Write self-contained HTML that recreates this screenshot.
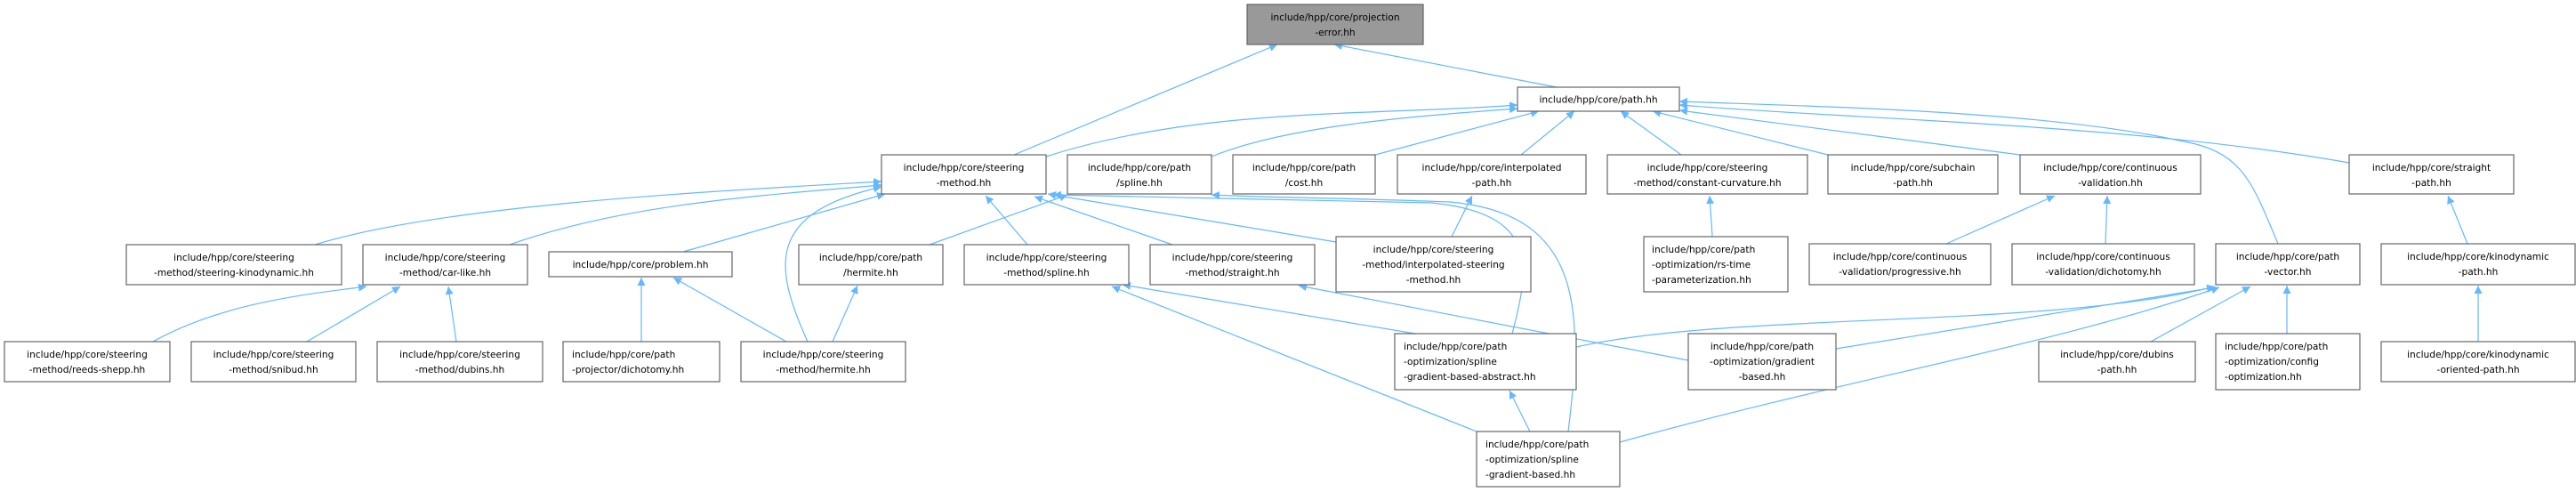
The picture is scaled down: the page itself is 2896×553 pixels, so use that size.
<!DOCTYPE html>
<html><head><meta charset="utf-8"><style>
html,body{margin:0;padding:0;background:#fff;}
svg{display:block;}
text{font-family:"DejaVu Sans","Liberation Sans",sans-serif;font-size:10.6px;fill:#000;}
.n{fill:#fff;stroke:#666;stroke-width:1.2;}
.e{fill:none;stroke:#63b8ff;stroke-width:1.2;}
</style></head><body>
<svg width="2896" height="553" viewBox="0 0 2896 553" xmlns="http://www.w3.org/2000/svg">
<defs><marker id="a" viewBox="0 0 10 10" refX="10" refY="5" markerWidth="9" markerHeight="9" orient="auto" markerUnits="userSpaceOnUse"><path d="M0,0 L10,5 L0,10 z" fill="#63b8ff"/></marker></defs>
<g class="e" marker-end="url(#a)">
<path d="M1140,174 L1436,50"/>
<path d="M1750,98 L1500,50"/>
<path d="M1176,176 C1350,120 1550,130 1706,118"/>
<path d="M1362,176 C1450,140 1600,130 1706,122"/>
<path d="M1546,174 L1730,125"/>
<path d="M1710,174 L1770,125"/>
<path d="M1890,174 L1822,125"/>
<path d="M2055,174 L1858,125"/>
<path d="M2271,174 L1888,124"/>
<path d="M2641,183 C2400,140 2100,135 1888,118"/>
<path d="M2561,274 C2530,200 2520,170 2450,158 C2300,125 2050,120 1888,114"/>
<path d="M354,275 C500,230 800,215 991,204"/>
<path d="M573,275 C700,230 850,220 991,208"/>
<path d="M768,283 L995,218"/>
<path d="M908,384 C870,300 860,240 991,210"/>
<path d="M1155,275 L1108,220"/>
<path d="M1318,275 L1163,221"/>
<path d="M1502,272 L1178,218"/>
<path d="M1045,275 L1200,219"/>
<path d="M1700,375 C1720,300 1730,240 1610,228 C1450,225 1300,222 1184,219"/>
<path d="M1763,485 C1780,350 1780,240 1630,227 C1500,222 1420,222 1362,219"/>
<path d="M936,384 L964,321"/>
<path d="M172,384 C250,340 350,330 412,322"/>
<path d="M345,384 L450,322"/>
<path d="M513,384 L504,322"/>
<path d="M721,384 L721,312"/>
<path d="M884,384 L757,312"/>
<path d="M1591,375 L1262,320"/>
<path d="M1660,485 L1250,322"/>
<path d="M1898,405 L1460,321"/>
<path d="M1632,266 L1655,220"/>
<path d="M1925,266 L1922,220"/>
<path d="M2188,274 L2310,220"/>
<path d="M2367,274 L2369,220"/>
<path d="M2774,274 L2752,220"/>
<path d="M2786,384 L2786,321"/>
<path d="M1772,390 C1950,350 2300,370 2490,322"/>
<path d="M2064,392 L2490,323"/>
<path d="M1821,497 C2100,420 2300,390 2495,323"/>
<path d="M2418,384 L2530,322"/>
<path d="M2571,375 L2571,321"/>
<path d="M1720,485 L1697,439"/>
</g>
<g>
<rect x="1402" y="5" width="198" height="45" fill="#999" stroke="#666" stroke-width="1.2"/>
<text x="1501" y="23" text-anchor="middle">include/hpp/core/projection</text><text x="1501" y="40" text-anchor="middle">-error.hh</text>

<rect class="n" x="1706" y="98" width="182" height="27"/>
<text x="1797" y="115.5" text-anchor="middle">include/hpp/core/path.hh</text>

<rect class="n" x="991" y="174" width="185" height="44"/>
<text x="1083.5" y="192" text-anchor="middle">include/hpp/core/steering</text><text x="1083.5" y="209" text-anchor="middle">-method.hh</text>
<rect class="n" x="1200" y="174" width="162" height="44"/>
<text x="1281" y="192" text-anchor="middle">include/hpp/core/path</text><text x="1281" y="209" text-anchor="middle">/spline.hh</text>
<rect class="n" x="1386" y="174" width="160" height="44"/>
<text x="1466" y="192" text-anchor="middle">include/hpp/core/path</text><text x="1466" y="209" text-anchor="middle">/cost.hh</text>
<rect class="n" x="1571" y="174" width="212" height="44"/>
<text x="1677" y="192" text-anchor="middle">include/hpp/core/interpolated</text><text x="1677" y="209" text-anchor="middle">-path.hh</text>
<rect class="n" x="1807" y="174" width="225" height="44"/>
<text x="1919.5" y="192" text-anchor="middle">include/hpp/core/steering</text><text x="1919.5" y="209" text-anchor="middle">-method/constant-curvature.hh</text>
<rect class="n" x="2055" y="174" width="191" height="44"/>
<text x="2150.5" y="192" text-anchor="middle">include/hpp/core/subchain</text><text x="2150.5" y="209" text-anchor="middle">-path.hh</text>
<rect class="n" x="2271" y="174" width="203" height="44"/>
<text x="2372.5" y="192" text-anchor="middle">include/hpp/core/continuous</text><text x="2372.5" y="209" text-anchor="middle">-validation.hh</text>
<rect class="n" x="2641" y="174" width="185" height="44"/>
<text x="2733.5" y="192" text-anchor="middle">include/hpp/core/straight</text><text x="2733.5" y="209" text-anchor="middle">-path.hh</text>

<rect class="n" x="142" y="275" width="242" height="45"/>
<text x="263" y="293" text-anchor="middle">include/hpp/core/steering</text><text x="263" y="310" text-anchor="middle">-method/steering-kinodynamic.hh</text>
<rect class="n" x="408" y="275" width="185" height="45"/>
<text x="500.5" y="293" text-anchor="middle">include/hpp/core/steering</text><text x="500.5" y="310" text-anchor="middle">-method/car-like.hh</text>
<rect class="n" x="617" y="283" width="206" height="28"/>
<text x="720" y="301" text-anchor="middle">include/hpp/core/problem.hh</text>
<rect class="n" x="898" y="275" width="162" height="45"/>
<text x="979" y="293" text-anchor="middle">include/hpp/core/path</text><text x="979" y="310" text-anchor="middle">/hermite.hh</text>
<rect class="n" x="1084" y="275" width="185" height="45"/>
<text x="1176.5" y="293" text-anchor="middle">include/hpp/core/steering</text><text x="1176.5" y="310" text-anchor="middle">-method/spline.hh</text>
<rect class="n" x="1293" y="275" width="185" height="45"/>
<text x="1385.5" y="293" text-anchor="middle">include/hpp/core/steering</text><text x="1385.5" y="310" text-anchor="middle">-method/straight.hh</text>
<rect class="n" x="1502" y="266" width="219" height="62"/>
<text x="1611.5" y="284" text-anchor="middle">include/hpp/core/steering</text><text x="1611.5" y="301" text-anchor="middle">-method/interpolated-steering</text><text x="1611.5" y="318" text-anchor="middle">-method.hh</text>
<rect class="n" x="1848" y="266" width="162" height="62"/>
<text x="1857" y="284">include/hpp/core/path</text><text x="1857" y="301">-optimization/rs-time</text><text x="1857" y="318">-parameterization.hh</text>
<rect class="n" x="2034" y="274" width="204" height="46"/>
<text x="2136" y="292" text-anchor="middle">include/hpp/core/continuous</text><text x="2136" y="309" text-anchor="middle">-validation/progressive.hh</text>
<rect class="n" x="2262" y="274" width="205" height="46"/>
<text x="2364.5" y="292" text-anchor="middle">include/hpp/core/continuous</text><text x="2364.5" y="309" text-anchor="middle">-validation/dichotomy.hh</text>
<rect class="n" x="2491" y="274" width="162" height="46"/>
<text x="2572" y="292" text-anchor="middle">include/hpp/core/path</text><text x="2572" y="309" text-anchor="middle">-vector.hh</text>
<rect class="n" x="2677" y="274" width="218" height="46"/>
<text x="2786" y="292" text-anchor="middle">include/hpp/core/kinodynamic</text><text x="2786" y="309" text-anchor="middle">-path.hh</text>

<rect class="n" x="5" y="384" width="186" height="45"/>
<text x="98" y="402" text-anchor="middle">include/hpp/core/steering</text><text x="98" y="419" text-anchor="middle">-method/reeds-shepp.hh</text>
<rect class="n" x="215" y="384" width="185" height="45"/>
<text x="307.5" y="402" text-anchor="middle">include/hpp/core/steering</text><text x="307.5" y="419" text-anchor="middle">-method/snibud.hh</text>
<rect class="n" x="424" y="384" width="186" height="45"/>
<text x="517" y="402" text-anchor="middle">include/hpp/core/steering</text><text x="517" y="419" text-anchor="middle">-method/dubins.hh</text>
<rect class="n" x="633" y="384" width="176" height="45"/>
<text x="643" y="402">include/hpp/core/path</text><text x="643" y="419">-projector/dichotomy.hh</text>
<rect class="n" x="833" y="384" width="185" height="45"/>
<text x="925.5" y="402" text-anchor="middle">include/hpp/core/steering</text><text x="925.5" y="419" text-anchor="middle">-method/hermite.hh</text>
<rect class="n" x="1568" y="375" width="204" height="63"/>
<text x="1578" y="393">include/hpp/core/path</text><text x="1578" y="410">-optimization/spline</text><text x="1578" y="427">-gradient-based-abstract.hh</text>
<rect class="n" x="1898" y="375" width="166" height="63"/>
<text x="1981" y="393" text-anchor="middle">include/hpp/core/path</text><text x="1981" y="410" text-anchor="middle">-optimization/gradient</text><text x="1981" y="427" text-anchor="middle">-based.hh</text>
<rect class="n" x="2292" y="384" width="176" height="45"/>
<text x="2380" y="402" text-anchor="middle">include/hpp/core/dubins</text><text x="2380" y="419" text-anchor="middle">-path.hh</text>
<rect class="n" x="2491" y="375" width="162" height="63"/>
<text x="2501" y="393">include/hpp/core/path</text><text x="2501" y="410">-optimization/config</text><text x="2501" y="427"> -optimization.hh</text>
<rect class="n" x="2677" y="384" width="218" height="45"/>
<text x="2786" y="402" text-anchor="middle">include/hpp/core/kinodynamic</text><text x="2786" y="419" text-anchor="middle">-oriented-path.hh</text>
<rect class="n" x="1660" y="485" width="161" height="62"/>
<text x="1670" y="503">include/hpp/core/path</text><text x="1670" y="520">-optimization/spline</text><text x="1670" y="537">  -gradient-based.hh</text>
</g>
</svg>
</body></html>
